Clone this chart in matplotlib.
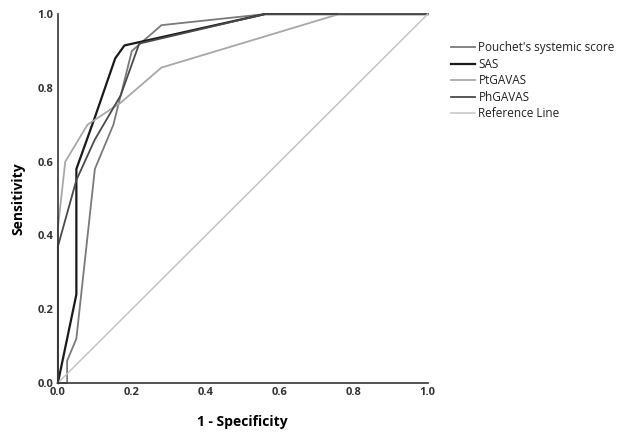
import matplotlib
matplotlib.use("Agg")
import matplotlib.pyplot as plt

plt.rcParams["font.family"] = ["Open Sans", "DejaVu Sans"]

# ROC curves (1 - specificity, sensitivity)
pouchet_x = [0.0, 0.025, 0.025, 0.05, 0.10, 0.15, 0.20, 0.28, 0.56, 1.0]
pouchet_y = [0.0, 0.0, 0.06, 0.12, 0.58, 0.70, 0.90, 0.97, 1.0, 1.0]

sas_x = [0.0, 0.05, 0.05, 0.10, 0.155, 0.18, 0.56, 1.0]
sas_y = [0.0, 0.24, 0.58, 0.72, 0.88, 0.915, 1.0, 1.0]

ptgavas_x = [0.0, 0.0, 0.02, 0.08, 0.17, 0.28, 0.76, 1.0]
ptgavas_y = [0.0, 0.42, 0.60, 0.70, 0.76, 0.855, 1.0, 1.0]

phgavas_x = [0.0, 0.0, 0.05, 0.10, 0.17, 0.22, 0.56, 1.0]
phgavas_y = [0.0, 0.37, 0.55, 0.66, 0.78, 0.92, 1.0, 1.0]

ref_x = [0.0, 1.0]
ref_y = [0.0, 1.0]

ticks = [0.0, 0.2, 0.4, 0.6, 0.8, 1.0]

fig = plt.figure(figsize=(6.29, 4.34), dpi=100)
ax = fig.add_axes([0.092, 0.1175, 0.588, 0.85])

ax.plot(pouchet_x, pouchet_y, color="#7a7a7a", lw=1.3, label="Pouchet's systemic score", clip_on=False)
ax.plot(sas_x, sas_y, color="#1a1a1a", lw=1.6, label="SAS", clip_on=False)
ax.plot(ptgavas_x, ptgavas_y, color="#a8a8a8", lw=1.3, label="PtGAVAS", clip_on=False)
ax.plot(phgavas_x, phgavas_y, color="#4a4a4a", lw=1.3, label="PhGAVAS", clip_on=False)
ax.plot(ref_x, ref_y, color="#c4c4c4", lw=1.1, label="Reference Line", clip_on=False)

ax.set_xlim(0, 1)
ax.set_ylim(0, 1)
ax.set_xticks(ticks)
ax.set_yticks(ticks)
ax.set_xticklabels([f"{t:.1f}" for t in ticks])
ax.set_yticklabels([f"{t:.1f}" for t in ticks])
ax.tick_params(length=0, labelsize=8, pad=3)
for lab in ax.get_xticklabels() + ax.get_yticklabels():
    lab.set_fontweight("bold")
    lab.set_color("#333333")

for s in ["top", "right"]:
    ax.spines[s].set_visible(False)
for s in ["left", "bottom"]:
    ax.spines[s].set_color("#333333")
    ax.spines[s].set_linewidth(1.2)

ax.set_xlabel("1 - Specificity", fontsize=10, fontweight="bold", labelpad=12)
ax.set_ylabel("Sensitivity", fontsize=10, fontweight="bold", labelpad=9)

leg = ax.legend(loc="upper left", bbox_to_anchor=(1.035, 0.955), frameon=False,
                fontsize=8.5, handlelength=2.0, handletextpad=0.3, labelspacing=0.3)
for t in leg.get_texts():
    t.set_color("#222222")

plt.savefig("out.png", dpi=100)
